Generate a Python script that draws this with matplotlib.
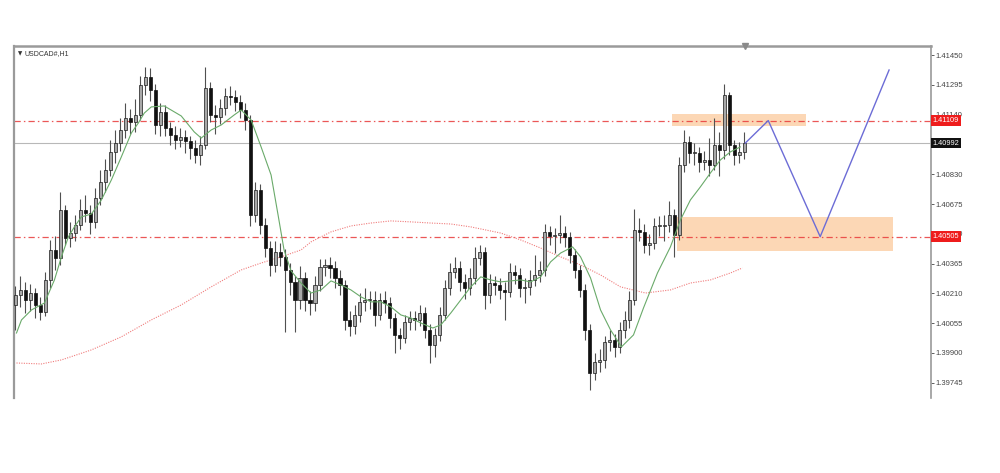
import matplotlib
matplotlib.use("Agg")
import matplotlib.pyplot as plt
import numpy as np

# ---------------- data ----------------
symbol_title = "USDCAD#,H1"
first_open = 1.40150
closes = [1.40202, 1.40228, 1.40176, 1.40212, 1.40150, 1.40114, 1.40280, 1.40436, 1.40394, 1.40644,
          1.40498, 1.40524, 1.40566, 1.40644, 1.40628, 1.40582, 1.40706, 1.40790, 1.40852, 1.40946,
          1.40992, 1.41060, 1.41122, 1.41102, 1.41138, 1.41294, 1.41336, 1.41268, 1.41086, 1.41154,
          1.41070, 1.41034, 1.41008, 1.41024, 1.41003, 1.40966, 1.40930, 1.40982, 1.41278, 1.41138,
          1.41128, 1.41174, 1.41237, 1.41232, 1.41206, 1.41164, 1.41112, 1.40618, 1.40748, 1.40566,
          1.40446, 1.40358, 1.40426, 1.40400, 1.40332, 1.40270, 1.40176, 1.40290, 1.40176, 1.40160,
          1.40254, 1.40348, 1.40358, 1.40342, 1.40290, 1.40254, 1.40072, 1.40041, 1.40098, 1.40166,
          1.40176, 1.40176, 1.40098, 1.40176, 1.40160, 1.40082, 1.39994, 1.39978, 1.40062, 1.40082,
          1.40072, 1.40108, 1.40020, 1.39942, 1.39994, 1.40098, 1.40238, 1.40322, 1.40342, 1.40270,
          1.40238, 1.40290, 1.40394, 1.40426, 1.40202, 1.40264, 1.40254, 1.40228, 1.40218, 1.40322,
          1.40306, 1.40238, 1.40244, 1.40280, 1.40306, 1.40332, 1.40530, 1.40509, 1.40514, 1.40524,
          1.40504, 1.40410, 1.40332, 1.40228, 1.40020, 1.39796, 1.39854, 1.39864, 1.39958, 1.39968,
          1.39932, 1.40020, 1.40072, 1.40176, 1.40540, 1.40530, 1.40462, 1.40472, 1.40561, 1.40561,
          1.40566, 1.40618, 1.40514, 1.40878, 1.40998, 1.40940, 1.40940, 1.40894, 1.40904, 1.40878,
          1.40982, 1.40956, 1.41242, 1.40982, 1.40930, 1.40946, 1.40992]
highs = [1.4025, 1.4030, 1.4027, 1.4026, 1.4024, 1.4019, 1.4032, 1.4049, 1.4051, 1.4074,
         1.4067, 1.4058, 1.4062, 1.4070, 1.4072, 1.4067, 1.4076, 1.4085, 1.4091, 1.4101,
         1.4106, 1.4112, 1.4120, 1.4117, 1.4122, 1.4134, 1.4139, 1.4138, 1.4130, 1.4120,
         1.4119, 1.4110, 1.4108, 1.4107, 1.4106, 1.4103, 1.4101, 1.4103, 1.4139, 1.4131,
         1.4119, 1.4122, 1.4128, 1.4129, 1.4127, 1.4124, 1.4120, 1.4114, 1.4079, 1.4078,
         1.4060, 1.4048, 1.4048, 1.4047, 1.4044, 1.4037, 1.4030, 1.4035, 1.4032, 1.4022,
         1.4030, 1.4039, 1.4039, 1.4040, 1.4038, 1.4033, 1.4028, 1.4012, 1.4015, 1.4021,
         1.4024, 1.4022, 1.4022, 1.4021, 1.4022, 1.4019, 1.4011, 1.4003, 1.4010, 1.4012,
         1.4012, 1.4015, 1.4014, 1.4005, 1.4003, 1.4014, 1.4028, 1.4037, 1.4040, 1.4038,
         1.4031, 1.4034, 1.4045, 1.4046, 1.4045, 1.4031, 1.4030, 1.4029, 1.4027, 1.4037,
         1.4036, 1.4034, 1.4029, 1.4033, 1.4041, 1.4038, 1.4057, 1.4056, 1.4055, 1.4062,
         1.4056, 1.4053, 1.4044, 1.4036, 1.4026, 1.4005, 1.3990, 1.3992, 1.3999, 1.4002,
         1.4000, 1.4006, 1.4012, 1.4022, 1.4065, 1.4060, 1.4057, 1.4052, 1.4060, 1.4061,
         1.4062, 1.4069, 1.4065, 1.4092, 1.4106, 1.4103, 1.4099, 1.4097, 1.4095, 1.4102,
         1.4112, 1.4105, 1.4130, 1.4126, 1.4101, 1.4100, 1.4105]
lows = [1.4002, 1.4014, 1.4011, 1.4012, 1.4008, 1.4007, 1.4009, 1.4024, 1.4033, 1.4036,
        1.4046, 1.4045, 1.4048, 1.4054, 1.4058, 1.4052, 1.4055, 1.4067, 1.4074, 1.4082,
        1.4089, 1.4095, 1.4102, 1.4104, 1.4105, 1.4111, 1.4124, 1.4121, 1.4104, 1.4103,
        1.4103, 1.4098, 1.4096, 1.4097, 1.4094, 1.4091, 1.4089, 1.4088, 1.4096, 1.4110,
        1.4104, 1.4109, 1.4114, 1.4119, 1.4116, 1.4112, 1.4106, 1.4056, 1.4058, 1.4052,
        1.4040, 1.4030, 1.4032, 1.4035, 1.4001, 1.4020, 1.4001, 1.4013, 1.4012, 1.4010,
        1.4012, 1.4022, 1.4030, 1.4029, 1.4024, 1.4020, 1.4002, 1.3999, 1.4000, 1.4006,
        1.4012, 1.4013, 1.4004, 1.4007, 1.4011, 1.4003, 1.3990, 1.3992, 1.3995, 1.4002,
        1.4002, 1.4004, 1.3998, 1.3985, 1.3988, 1.3996, 1.4007, 1.4020, 1.4029, 1.4022,
        1.4018, 1.4020, 1.4026, 1.4036, 1.4013, 1.4016, 1.4020, 1.4018, 1.4007, 1.4019,
        1.4026, 1.4019, 1.4016, 1.4020, 1.4025, 1.4027, 1.4030, 1.4046, 1.4042, 1.4047,
        1.4045, 1.4037, 1.4029, 1.4019, 1.3997, 1.3971, 1.3976, 1.3980, 1.3982, 1.3991,
        1.3988, 1.3990, 1.3998, 1.4003, 1.4015, 1.4048, 1.4042, 1.4041, 1.4044, 1.4051,
        1.4048, 1.4053, 1.4040, 1.4049, 1.4084, 1.4089, 1.4088, 1.4084, 1.4085, 1.4082,
        1.4085, 1.4082, 1.4091, 1.4093, 1.4088, 1.4089, 1.4091]

# fast moving average (green), sampled along the chart: bar index / price
ma_fast_idx = [0.2, 1.2, 3.2, 5.8, 7.8, 9.2, 10.6, 11.8, 13.2, 15.2, 17.2, 19.2, 21.2, 23.2, 24.6,
               25.8, 27.2, 29.8, 33.2, 35.8, 37.2, 39.2, 41.2, 43.8, 45.2, 47.2, 49.2, 51.2, 52.6,
               53.8, 55.2, 57.2, 59.2, 61.2, 63.2, 65.2, 67.2, 69.2, 71.2, 73.2, 75.2, 77.2, 79.2,
               81.2, 83.6, 85.2, 87.2, 89.2, 91.2, 93.2, 95.2, 97.2, 101.2, 103.2, 105.2, 107.2,
               109.2, 111.6, 113.2, 115.2, 117.2, 119.2, 121.4, 123.8, 125.8, 128.6, 131.2, 133.2,
               135.2, 137.2, 139.2, 141.2, 143.2, 145.2]
ma_fast_val = [1.40004, 1.40072, 1.40124, 1.40160, 1.40280, 1.40400, 1.40504, 1.40556, 1.40608,
               1.40623, 1.40696, 1.40800, 1.40920, 1.41044, 1.41096, 1.41148, 1.41180, 1.41185,
               1.41133, 1.41050, 1.41018, 1.41060, 1.41086, 1.41138, 1.41164, 1.41112, 1.40972,
               1.40826, 1.40618, 1.40436, 1.40327, 1.40264, 1.40212, 1.40228, 1.40275, 1.40254,
               1.40228, 1.40192, 1.40166, 1.40166, 1.40140, 1.40098, 1.40082, 1.40056, 1.40030,
               1.40046, 1.40108, 1.40176, 1.40244, 1.40296, 1.40280, 1.40270, 1.40280, 1.40270,
               1.40296, 1.40374, 1.40420, 1.40452, 1.40400, 1.40290, 1.40124, 1.40020, 1.39932,
               1.39994, 1.40134, 1.40316, 1.40452, 1.40592, 1.40696, 1.40764, 1.40836, 1.40904,
               1.40946, 1.40972]

# slow moving average (red dotted)
ma_slow_idx = [0.2, 5.2, 9.2, 15.2, 21.2, 27.2, 33.2, 39.2, 45.2, 49.2, 53.2, 57.2, 59.2, 63.2,
               67.2, 71.2, 75.2, 79.2, 83.2, 87.2, 91.2, 97.2, 101.2, 105.2, 109.2, 113.2, 117.2,
               121.2, 126.2, 131.2, 135.2, 139.2, 143.2, 145.6]
ma_slow_val = [1.39848, 1.39843, 1.39864, 1.39916, 1.39984, 1.40072, 1.40150, 1.40244, 1.40332,
               1.40368, 1.40400, 1.40436, 1.40478, 1.40530, 1.40561, 1.40576, 1.40587, 1.40582,
               1.40576, 1.40571, 1.40556, 1.40524, 1.40488, 1.40446, 1.40400, 1.40358, 1.40306,
               1.40244, 1.40212, 1.40228, 1.40264, 1.40280, 1.40316, 1.40342]

# levels and drawings
resistance_level = 1.41109
support_level = 1.40505
bid_level = 1.40992
upper_zone = (131.6, 158.4, 1.41080, 1.41143)   # x0, x1, y0, y1
lower_zone = (132.6, 175.8, 1.40431, 1.40608)
path_idx = [146.2, 150.8, 161.2, 175.0]
path_val = [1.40992, 1.41109, 1.40505, 1.41372]
price_ticks = [1.39745, 1.39900, 1.40055, 1.40210, 1.40365, 1.40520, 1.40675, 1.40830,
               1.40985, 1.41140, 1.41295, 1.41450]
hidden_ticks = [1.40985]   # fully covered by the bid label in the reference
shift_marker_idx = 146.2

# ---------------- figure ----------------
plt.rcParams['font.family'] = ['Liberation Sans', 'DejaVu Sans']
fig = plt.figure(figsize=(10.0, 4.73), dpi=100)
ax = fig.add_axes([0.014, 0.1586, 0.917, 0.7442])

n = len(closes)
x = np.arange(n)
c = np.array(closes)
o = np.concatenate([[first_open], c[:-1]])
h = np.array(highs)
l = np.array(lows)

# zones
for (x0, x1, y0, y1) in (upper_zone, lower_zone):
    ax.add_patch(plt.Rectangle((x0, y0), x1 - x0, y1 - y0, facecolor='#fcd3ad',
                               edgecolor='none', alpha=0.9, zorder=1))

# horizontal levels
dashdot = (0, (5, 2.5, 1.2, 2.5))
ax.axhline(resistance_level, color='#e83a3a', lw=0.9, ls=dashdot, alpha=0.85, zorder=1.5)
ax.axhline(support_level, color='#e83a3a', lw=0.9, ls=dashdot, alpha=0.85, zorder=1.5)
ax.axhline(bid_level, color='#b8b8b8', lw=0.8, zorder=1.5)

# moving averages
ax.plot(ma_slow_idx, ma_slow_val, color='#f07c7c', lw=0.8, ls=(0, (1, 1.2)), zorder=2)
ax.plot(ma_fast_idx, ma_fast_val, color='#6aaa6a', lw=0.8, zorder=4)

# candles
hi = np.maximum(h, np.maximum(o, c))
lo = np.minimum(l, np.minimum(o, c))
ax.vlines(x, lo, hi, color='#505050', lw=0.8, zorder=3)
bull = c >= o
body_bottom = np.minimum(o, c)
body_height = np.maximum(np.abs(c - o), 0.00003)
ax.bar(x[bull], body_height[bull], bottom=body_bottom[bull], width=0.62,
       color='#a8a8a8', edgecolor='#1a1a1a', linewidth=0.5, zorder=3.2)
ax.bar(x[~bull], body_height[~bull], bottom=body_bottom[~bull], width=0.62,
       color='#111111', edgecolor='#111111', linewidth=0.5, zorder=3.2)

# projection path
ax.plot(path_idx, path_val, color='#6c6cd6', lw=1.0, zorder=5)

# axes
ax.set_xlim(-0.3, 183.4)
ax.set_ylim(1.39666, 1.41497)
ax.yaxis.tick_right()
ax.set_yticks(price_ticks)
ax.set_yticklabels(["" if v in hidden_ticks else f"{v:.5f}" for v in price_ticks])
ax.tick_params(axis='y', labelsize=5.5, colors='#444444', length=2, width=0.6, pad=1.5)
ax.set_xticks([])
ax.spines['bottom'].set_visible(False)
ax.spines['left'].set_color('#9a9a9a')
ax.spines['left'].set_linewidth(1.6)
ax.spines['top'].set_color('#9a9a9a')
ax.spines['top'].set_linewidth(1.8)
ax.spines['right'].set_color('#9a9a9a')
ax.spines['right'].set_linewidth(1.2)

# price labels on the axis
ytr = ax.get_yaxis_transform()
for val, fc in ((resistance_level, '#ee1c1c'), (support_level, '#ee1c1c'), (bid_level, '#111111')):
    ax.text(1.002, val, f"{val:.5f}", transform=ytr, ha='left', va='center', fontsize=5.3,
            color='white', clip_on=False, zorder=10,
            bbox=dict(boxstyle='square,pad=0.25', facecolor=fc, edgecolor='none'))

# title
ax.text(0.004, 0.985, "\u25bc", transform=ax.transAxes, fontsize=4, color='#333333',
        ha='left', va='top', family=['DejaVu Sans'])
ax.text(0.011, 0.988, symbol_title, transform=ax.transAxes, fontsize=5, color='#333333',
        ha='left', va='top')

# chart shift marker
ax.plot([shift_marker_idx], [1.41497], marker='v', markersize=4, color='#8a8a8a',
        clip_on=False, zorder=10)

fig.savefig("out.png", dpi=100, facecolor='white')
